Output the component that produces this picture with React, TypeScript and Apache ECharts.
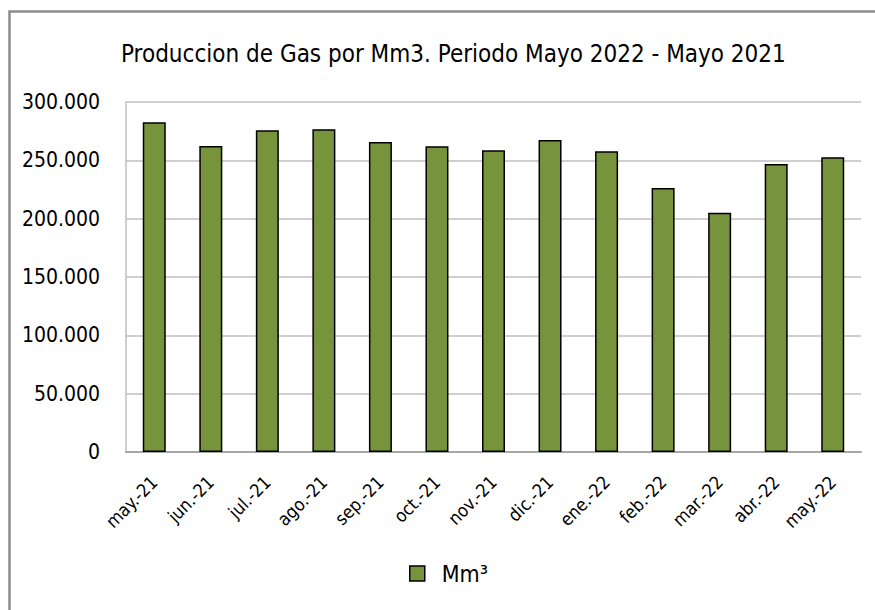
import React, { useEffect, useRef } from "react";
import * as echarts from "echarts";

const categories = ["may.-21", "jun.-21", "jul.-21", "ago.-21", "sep.-21", "oct.-21", "nov.-21", "dic.-21", "ene.-22", "feb.-22", "mar.-22", "abr.-22", "may.-22"];
const gasValues = [282600, 262300, 275700, 276600, 265700, 262000, 258600, 267400, 257700, 226300, 205100, 246900, 252600];
const seriesName = "Mm³";
const titleText = "Produccion de Gas por Mm3. Periodo Mayo 2022 - Mayo 2021";

const FONT = "'Liberation Sans Narrow', 'DejaVu Sans Condensed', 'Roboto Condensed', sans-serif";

function fmt(v: number): string {
  return String(Math.round(v)).replace(/\B(?=(\d{3})+(?!\d))/g, ".");
}

export default function App() {
  const ref = useRef<HTMLDivElement>(null);
  useEffect(() => {
    if (!ref.current) return;
    const chart = echarts.init(ref.current, undefined, { renderer: "svg" });
    chart.setOption({
      animation: false,
      backgroundColor: "#ffffff",
      textStyle: { fontFamily: FONT },
      graphic: [
        {
          type: "rect",
          shape: { x: 9.5, y: 11.5, width: 900, height: 700 },
          style: { fill: "none", stroke: "#8c8c8c", lineWidth: 2.5 },
          silent: true,
        },
      ],
      title: {
        text: titleText,
        left: 116,
        top: 37,
        textStyle: { fontFamily: FONT, fontSize: 24, fontWeight: "normal", color: "#000" },
      },
      legend: {
        data: [seriesName],
        bottom: 20,
        left: 404,
        icon: "rect",
        itemWidth: 15,
        itemHeight: 15,
        itemGap: 10,
        itemStyle: { borderColor: "#000", borderWidth: 1.5 },
        textStyle: { fontFamily: FONT, fontSize: 23, color: "#000", padding: [0, 0, 0, 12] },
      },
      grid: { left: 126, right: 14, top: 102, bottom: 158, containLabel: false },
      xAxis: {
        type: "category",
        data: categories,
        axisLine: { lineStyle: { color: "#a6a6a6", width: 2 } },
        axisTick: { show: false },
        axisLabel: { rotate: 45, fontFamily: FONT, fontSize: 18, color: "#000", margin: 27, interval: 0 },
      },
      yAxis: {
        type: "value",
        min: 0,
        max: 300000,
        interval: 50000,
        axisLine: { show: true, lineStyle: { color: "#bfbfbf", width: 1.5 } },
        axisTick: { show: false },
        splitLine: { lineStyle: { color: "#bfbfbf", width: 1.5 } },
        axisLabel: { formatter: (v: number) => fmt(v), fontFamily: FONT, fontSize: 21, color: "#000", margin: 26 },
      },
      series: [
        {
          name: seriesName,
          type: "bar",
          data: gasValues,
          barWidth: 23,
          itemStyle: { color: "#77933c", borderColor: "#000", borderWidth: 1.5 },
        },
      ],
    });
    return () => chart.dispose();
  }, []);
  return <div ref={ref} style={{ position: "absolute", left: 0, top: 0, width: 875, height: 610 }} />;
}
